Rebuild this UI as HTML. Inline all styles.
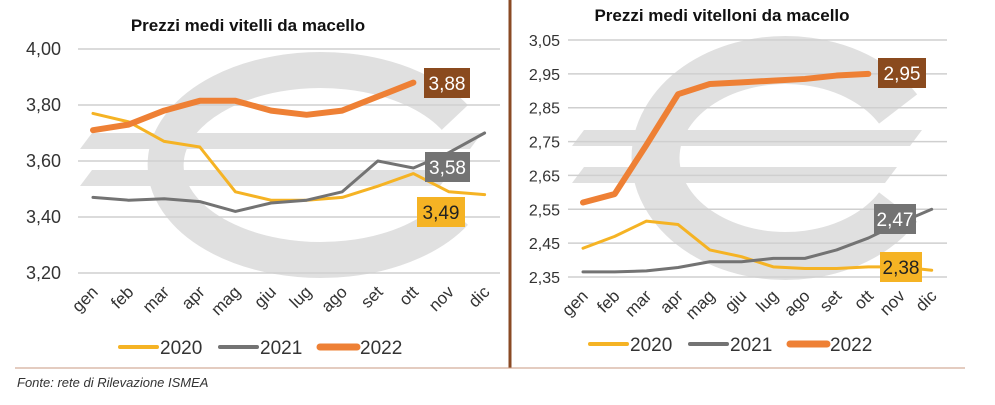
<!DOCTYPE html>
<html><head><meta charset="utf-8"><style>
body{margin:0;width:995px;height:400px;background:#fff;overflow:hidden;font-family:"Liberation Sans",sans-serif}
svg text{font-family:"Liberation Sans",sans-serif}
</style></head><body>
<svg id="s" width="995" height="400">
<line x1="510" y1="0" x2="510" y2="368" stroke="#8a4a24" stroke-width="3"/>
<line x1="15" y1="368" x2="965" y2="368" stroke="#c99a80" stroke-width="1"/>
<text x="17" y="387" font-size="13" font-style="italic" fill="#333">Fonte: rete di Rilevazione ISMEA</text>
</svg>
<script>
const months=["gen","feb","mar","apr","mag","giu","lug","ago","set","ott","nov","dic"];
const years=["2020","2021","2022"];
const leftTicks=[4.00,3.80,3.60,3.40,3.20];
const left2020=[3.77,3.74,3.67,3.65,3.49,3.46,3.46,3.47,3.51,3.555,3.49,3.48];
const left2021=[3.47,3.46,3.465,3.455,3.42,3.45,3.46,3.49,3.60,3.575,3.63,3.70];
const left2022=[3.71,3.73,3.78,3.815,3.815,3.78,3.765,3.78,3.83,3.88];
const rightTicks=[3.05,2.95,2.85,2.75,2.65,2.55,2.45,2.35];
const right2020=[2.435,2.47,2.515,2.505,2.43,2.41,2.38,2.375,2.375,2.38,2.38,2.37];
const right2021=[2.365,2.365,2.368,2.378,2.395,2.395,2.405,2.405,2.43,2.465,2.51,2.55];
const right2022=[2.57,2.595,2.74,2.89,2.92,2.925,2.93,2.935,2.945,2.95];
const leftLabels=["3,88","3,58","3,49"];
const rightLabels=["2,95","2,47","2,38"];

const NS="http://www.w3.org/2000/svg",svg=document.getElementById('s');
function mk(t,a,p){const e=document.createElementNS(NS,t);for(const k in a)e.setAttribute(k,a[k]);(p||svg).appendChild(e);return e;}
const colors=["#f5b324","#737373","#ee8035"],widths=[3,3,6];

function panel(o){
  const g=mk('g',{});
  
  
  const y=v=>o.y0+(o.v0-v)/(o.v0-o.v1)*(o.y1-o.y0);
  const x=i=>o.x0+i*o.step;
  const eu=mk('g',{fill:'none',stroke:'#e0e0e0'},g);
  
  const cx=o.ex,cy=o.ey,rx=o.rx,ry=o.ry;
  mk('path',{d:`M ${cx+rx*0.87} ${cy-ry*0.5} A ${rx} ${ry} 0 1 0 ${cx+rx*0.87} ${cy+ry*0.5}`,'stroke-width':o.ew},eu);
  o.bars.forEach(b=>mk('polygon',{points:`${b[0]+12},${b[1]} ${b[2]+12},${b[1]} ${b[2]},${b[1]+16} ${b[0]},${b[1]+16}`,fill:'#e0e0e0',stroke:'none'},eu));
  const t=mk('text',{x:o.tx,y:o.ty,'font-size':17,'font-weight':'bold','text-anchor':'middle',fill:'#111'},g);
  t.textContent=o.title;
  o.ticks.forEach(v=>{
    const l=mk('line',{x1:o.x0-15,x2:o.x1g,y1:y(v),y2:y(v),stroke:'#cfcfcf','stroke-width':1.5},g);
    
    const tt=mk('text',{x:o.lx,y:y(v)+6,'font-size':o.fs,'text-anchor':'end',fill:'#333'},g);
    tt.textContent=v.toFixed(2).replace('.',',');
    
  });
  months.forEach((m,i)=>{
    const tt=mk('text',{x:x(i)+6,y:o.y1+20,'font-size':17,'text-anchor':'end',fill:'#333',transform:`rotate(-45 ${x(i)+6} ${o.y1+20})`},g);
    tt.textContent=m;
  });
  o.series.forEach((s,k)=>{
    const p=mk('polyline',{points:s.map((v,i)=>x(i)+','+y(v)).join(' '),fill:'none',stroke:colors[k],'stroke-width':widths[k],'stroke-linejoin':'round','stroke-linecap':'round'},g);
    
  });
  const bc=["#8a4a1e","#737373","#f5b324"],tc=["#fff","#fff","#222"];
  const idx=[2,1,0];
  o.labels.forEach((lab,j)=>{
    const b=o.boxes[j];
    const r=mk('rect',{x:b[0],y:b[1],width:b[2],height:30,fill:bc[j]},g);
    
    const tt=mk('text',{x:b[0]+b[2]/2,y:b[1]+22,'font-size':19,'text-anchor':'middle',fill:tc[j]},g);
    tt.textContent=lab;
  });
  years.forEach((yy,k)=>{
    const lx=o.legx+k*100;
    const l=mk('line',{x1:lx,x2:lx+37,y1:o.legy,y2:o.legy,stroke:colors[k],'stroke-width':widths[k]+1,'stroke-linecap':'round'},g);
    
    const tt=mk('text',{x:lx+40,y:o.legy+7,'font-size':19,fill:'#333'},g);
    tt.textContent=yy;
  });
}
panel({name:'left-chart',title:'Prezzi medi vitelli da macello',tx:248,ty:31,x0:93,step:35.6,x1g:500,y0:49,y1:273,v0:4.0,v1:3.2,lx:61,fs:18,
  ticks:leftTicks,series:[left2020,left2021,left2022],labels:leftLabels,boxes:[[424,68,46],[425,152,45],[417,197,48]],
  legx:120,legy:347,ex:320,ey:165,rx:155,ry:95,ew:36,bars:[[80,133,470],[80,170,440]]});
panel({name:'right-chart',title:'Prezzi medi vitelloni da macello',tx:722,ty:21,x0:583,step:31.7,x1g:947,y0:40,y1:277,v0:3.05,v1:2.35,lx:560,fs:16,
  ticks:rightTicks,series:[right2020,right2021,right2022],labels:rightLabels,boxes:[[878,58,48],[874,204,42],[880,252,42]],
  legx:590,legy:344,ex:785,ey:158,rx:130,ry:98,ew:48,bars:[[572,130,910],[572,167,885]]});
</script>
</body></html>
